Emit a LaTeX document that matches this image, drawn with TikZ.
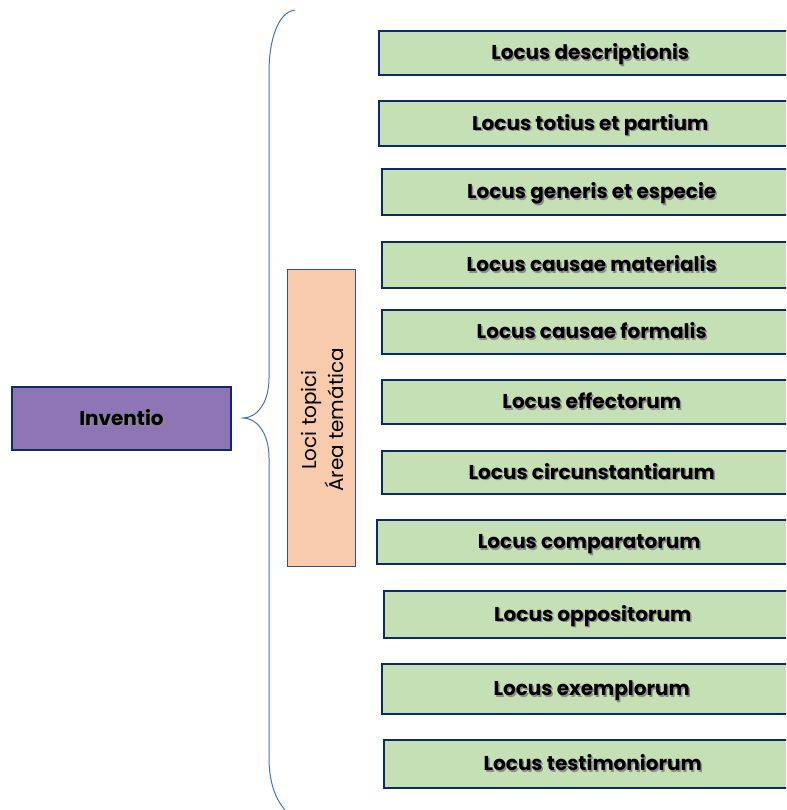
\documentclass[tikz,border=0pt]{standalone}
\usepackage{fontspec}
\setmainfont{Poppins}
\definecolor{navy}{HTML}{0B2A66}
\definecolor{gfill}{HTML}{C5E0B4}
\definecolor{pfill}{HTML}{8E76B6}
\definecolor{sfill}{HTML}{F8CBAD}
\definecolor{brace}{HTML}{4472C4}
\definecolor{sline}{HTML}{2F4F8F}
\newcommand\shtx[1]{\makebox[0pt][l]{\hspace{1.5pt}\raisebox{-1.5pt}{\color{black!45}#1}}#1}
\begin{document}
\begin{tikzpicture}[x=1pt,y=-1pt,
  gbox/.style={draw=navy,line width=2.4pt,fill=gfill,anchor=north west,inner sep=0pt,
    text height=13pt,text depth=0pt,
    font=\fontsize{20}{24}\selectfont\bfseries},
  pbox/.style={draw=navy,line width=2.4pt,fill=pfill,inner sep=0pt,
    text height=13pt,text depth=0pt,
    font=\fontsize{20}{24}\selectfont\bfseries},
  sbox/.style={draw=sline,line width=1pt,fill=sfill,inner sep=0pt},
  bracel/.style={draw=brace,line width=1pt}]
\useasboundingbox (0,0) rectangle (786,810);
\begin{scope}
\clip (0,0) rectangle (786,810);
\node[gbox,minimum width=422,minimum height=44] (b1) at (378,30) {\shtx{Locus descriptionis}};
\node[gbox,minimum width=422,minimum height=45] (b2) at (378,100) {\shtx{Locus totius et partium}};
\node[gbox,minimum width=419,minimum height=46] (b3) at (381,168) {\shtx{Locus generis et especie}};
\node[gbox,minimum width=419,minimum height=46] (b4) at (381,241) {\shtx{Locus causae materialis}};
\node[gbox,minimum width=419,minimum height=44] (b5) at (381,309) {\shtx{Locus causae formalis}};
\node[gbox,minimum width=419,minimum height=44] (b6) at (381,379) {\shtx{Locus effectorum}};
\node[gbox,minimum width=419,minimum height=43] (b7) at (381,450) {\shtx{Locus circunstantiarum}};
\node[gbox,minimum width=424,minimum height=44] (b8) at (376,519) {\shtx{Locus comparatorum}};
\node[gbox,minimum width=417,minimum height=47] (b9) at (383,590) {\shtx{Locus oppositorum}};
\node[gbox,minimum width=419,minimum height=50] (b10) at (381,663) {\shtx{Locus exemplorum}};
\node[gbox,minimum width=417,minimum height=48] (b11) at (383,739) {\shtx{Locus testimoniorum}};
\end{scope}
\node[pbox,minimum width=219,minimum height=63] (inv) at (121.5,418.5) {\shtx{Inventio}};
\node[sbox,minimum width=68,minimum height=297] (loci) at (321,417.5) {};
\node[rotate=90,align=center,font=\fontsize{20}{27}\selectfont] (locit) at (322,420) {Loci topici\\Área temática};
\coordinate (btop) at (295,10);
\coordinate (btip) at (243,418);
\coordinate (bbot) at (285,810);
\draw[bracel] (btop) .. controls (278,12) and (269,40) .. (269,72) -- (269,378)
  .. controls (269,404) and (256,418) .. (btip)
  .. controls (256,418) and (269,432) .. (269,458) -- (269,757)
  .. controls (269,782) and (275,798) .. (bbot);
\end{tikzpicture}
\end{document}
